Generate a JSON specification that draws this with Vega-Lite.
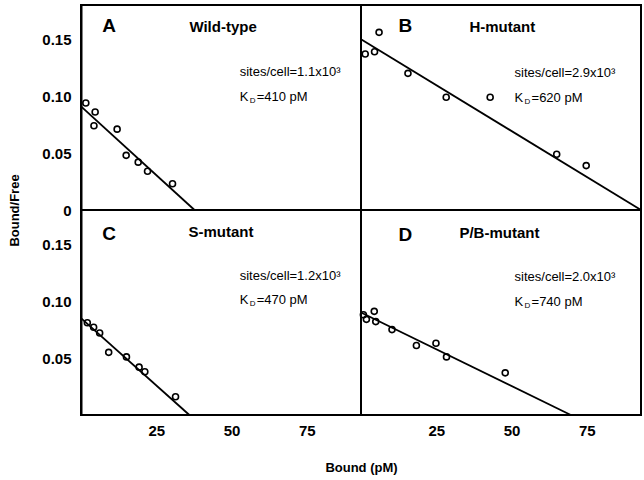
{
  "$schema": "https://vega.github.io/schema/vega-lite/v6.json",
  "background": "white",
  "padding": {"left": 7, "top": 4, "right": 0, "bottom": 0},
  "columns": 2,
  "spacing": 0,
  "bounds": "flush",
  "datasets": {
    "ticks": [{"ax": "x", "t": 25}, {"ax": "x", "t": 50}, {"ax": "x", "t": 75}, {"ax": "y", "t": 0.05}, {"ax": "y", "t": 0.1}, {"ax": "y", "t": 0.15}],
    "pts": [
      {"p": "A", "x": 1.6, "y": 0.094}, {"p": "A", "x": 4.7, "y": 0.086}, {"p": "A", "x": 4.3, "y": 0.074}, {"p": "A", "x": 12.0, "y": 0.071},
      {"p": "A", "x": 15.0, "y": 0.048}, {"p": "A", "x": 19.0, "y": 0.042}, {"p": "A", "x": 22.1, "y": 0.034}, {"p": "A", "x": 30.4, "y": 0.023},
      {"p": "B", "x": 1.4, "y": 0.137}, {"p": "B", "x": 4.5, "y": 0.139}, {"p": "B", "x": 6.0, "y": 0.156}, {"p": "B", "x": 15.6, "y": 0.120},
      {"p": "B", "x": 28.3, "y": 0.099}, {"p": "B", "x": 42.9, "y": 0.099}, {"p": "B", "x": 65.0, "y": 0.049}, {"p": "B", "x": 74.8, "y": 0.039},
      {"p": "C", "x": 2.1, "y": 0.081}, {"p": "C", "x": 4.2, "y": 0.077}, {"p": "C", "x": 6.2, "y": 0.072}, {"p": "C", "x": 9.2, "y": 0.055},
      {"p": "C", "x": 15.1, "y": 0.051}, {"p": "C", "x": 19.3, "y": 0.042}, {"p": "C", "x": 21.2, "y": 0.038}, {"p": "C", "x": 31.4, "y": 0.016},
      {"p": "D", "x": 0.8, "y": 0.088}, {"p": "D", "x": 1.8, "y": 0.084}, {"p": "D", "x": 4.4, "y": 0.091}, {"p": "D", "x": 4.9, "y": 0.082},
      {"p": "D", "x": 10.3, "y": 0.075}, {"p": "D", "x": 18.4, "y": 0.061}, {"p": "D", "x": 24.9, "y": 0.063}, {"p": "D", "x": 28.4, "y": 0.051},
      {"p": "D", "x": 47.9, "y": 0.037}
    ],
    "fits": [
      {"p": "A", "x": 0, "y": 0.091}, {"p": "A", "x": 37.7, "y": 0},
      {"p": "B", "x": 0, "y": 0.150}, {"p": "B", "x": 93, "y": 0},
      {"p": "C", "x": 0, "y": 0.085}, {"p": "C", "x": 36, "y": 0},
      {"p": "D", "x": 0, "y": 0.090}, {"p": "D", "x": 69.7, "y": 0}
    ],
    "labels": [
      {"p": "A", "kind": "letter", "text": "A", "x": 9.3, "y": 0.162},
      {"p": "A", "kind": "name", "text": "Wild-type", "x": 36, "y": 0.161},
      {"p": "A", "kind": "sites", "text": "sites/cell=1.1x10³", "x": 52.7, "y": 0.121},
      {"p": "A", "kind": "kd", "text": "=410 pM", "x": 52.7, "y": 0.099},
      {"p": "B", "kind": "letter", "text": "B", "x": 14.7, "y": 0.162},
      {"p": "B", "kind": "name", "text": "H-mutant", "x": 36, "y": 0.161},
      {"p": "B", "kind": "sites", "text": "sites/cell=2.9x10³", "x": 51, "y": 0.120},
      {"p": "B", "kind": "kd", "text": "=620 pM", "x": 51, "y": 0.098},
      {"p": "C", "kind": "letter", "text": "C", "x": 9.3, "y": 0.159},
      {"p": "C", "kind": "name", "text": "S-mutant", "x": 35.7, "y": 0.161},
      {"p": "C", "kind": "sites", "text": "sites/cell=1.2x10³", "x": 52.7, "y": 0.122},
      {"p": "C", "kind": "kd", "text": "=470 pM", "x": 52.7, "y": 0.101},
      {"p": "D", "kind": "letter", "text": "D", "x": 14.7, "y": 0.158},
      {"p": "D", "kind": "name", "text": "P/B-mutant", "x": 32.7, "y": 0.160},
      {"p": "D", "kind": "sites", "text": "sites/cell=2.0x10³", "x": 51, "y": 0.121},
      {"p": "D", "kind": "kd", "text": "=740 pM", "x": 51, "y": 0.099}
    ]
  },
  "concat": [
    {
      "width": 280, "height": 205,
      "encoding": {
        "x": {"field": "x", "type": "quantitative", "scale": {"domain": [0, 93], "nice": false}, "axis": {"values": [25, 50, 75], "labels": false, "ticks": false, "title": null, "domain": false}},
        "y": {"field": "y", "type": "quantitative", "scale": {"domain": [0, 0.18], "nice": false}, "axis": {"values": [0, 0.05, 0.1, 0.15], "labelExpr": "datum.value == 0 ? '0' : format(datum.value, '.2f')", "title": "Bound/Free", "titleX": -67, "titleY": 205, "titleAngle": -90, "titleAlign": "center", "titleBaseline": "middle"}}
      },
      "layer": [
        {"data": {"name": "ticks"}, "transform": [{"filter": "datum.ax == 'x'"}], "mark": {"type": "rule", "color": "black", "strokeWidth": 2, "opacity": 1}, "encoding": {"x": {"field": "t", "type": "quantitative"}, "y": {"datum": 0}, "y2": {"datum": 0.007}}},
        {"data": {"name": "ticks"}, "transform": [{"filter": "datum.ax == 'y'"}], "mark": {"type": "rule", "color": "black", "strokeWidth": 2, "opacity": 1, "clip": false}, "encoding": {"y": {"field": "t", "type": "quantitative"}, "x": {"datum": 0}, "x2": {"datum": -1.8}}},
        {"data": {"name": "fits"}, "transform": [{"filter": "datum.p == 'A'"}], "mark": {"type": "line", "color": "black", "strokeWidth": 1.8}},
        {"data": {"name": "pts"}, "transform": [{"filter": "datum.p == 'A'"}], "mark": {"type": "point", "shape": "circle", "size": 36, "color": "black", "strokeWidth": 1.6, "filled": false, "opacity": 1}},
        {"data": {"name": "labels"}, "transform": [{"filter": "datum.p == 'A' && datum.kind == 'letter'"}], "mark": {"type": "text", "fontSize": 19, "fontWeight": "bold", "align": "center", "baseline": "middle"}, "encoding": {"text": {"field": "text"}}},
        {"data": {"name": "labels"}, "transform": [{"filter": "datum.p == 'A' && datum.kind == 'name'"}], "mark": {"type": "text", "fontSize": 15, "fontWeight": "bold", "align": "left", "baseline": "middle"}, "encoding": {"text": {"field": "text"}}},
        {"data": {"name": "labels"}, "transform": [{"filter": "datum.p == 'A' && datum.kind == 'sites'"}], "mark": {"type": "text", "fontSize": 13, "align": "left", "baseline": "middle"}, "encoding": {"text": {"field": "text"}}},
        {"data": {"name": "labels"}, "transform": [{"filter": "datum.p == 'A' && datum.kind == 'kd'"}], "mark": {"type": "text", "fontSize": 13, "align": "left", "baseline": "middle"}, "encoding": {"text": {"value": "K"}}},
        {"data": {"name": "labels"}, "transform": [{"filter": "datum.p == 'A' && datum.kind == 'kd'"}], "mark": {"type": "text", "fontSize": 8, "align": "left", "baseline": "middle", "dx": 10, "dy": 4}, "encoding": {"text": {"value": "D"}}},
        {"data": {"name": "labels"}, "transform": [{"filter": "datum.p == 'A' && datum.kind == 'kd'"}], "mark": {"type": "text", "fontSize": 13, "align": "left", "baseline": "middle", "dx": 17}, "encoding": {"text": {"field": "text"}}}
      ]
    },
    {
      "width": 280, "height": 205,
      "encoding": {
        "x": {"field": "x", "type": "quantitative", "scale": {"domain": [0, 93], "nice": false}, "axis": {"values": [25, 50, 75], "labels": false, "ticks": false, "title": null, "domain": false}},
        "y": {"field": "y", "type": "quantitative", "scale": {"domain": [0, 0.18], "nice": false}, "axis": {"values": [0.05, 0.1, 0.15], "labels": false, "ticks": false, "title": null, "domain": false}}
      },
      "layer": [
        {"data": {"name": "ticks"}, "transform": [{"filter": "datum.ax == 'x'"}], "mark": {"type": "rule", "color": "black", "strokeWidth": 2, "opacity": 1}, "encoding": {"x": {"field": "t", "type": "quantitative"}, "y": {"datum": 0}, "y2": {"datum": 0.007}}},
        {"data": {"name": "ticks"}, "transform": [{"filter": "datum.ax == 'y'"}], "mark": {"type": "rule", "color": "black", "strokeWidth": 2, "opacity": 1}, "encoding": {"y": {"field": "t", "type": "quantitative"}, "x": {"datum": 0}, "x2": {"datum": 3}}},
        {"data": {"name": "fits"}, "transform": [{"filter": "datum.p == 'B'"}], "mark": {"type": "line", "color": "black", "strokeWidth": 1.8}},
        {"data": {"name": "pts"}, "transform": [{"filter": "datum.p == 'B'"}], "mark": {"type": "point", "shape": "circle", "size": 36, "color": "black", "strokeWidth": 1.6, "filled": false, "opacity": 1}},
        {"data": {"name": "labels"}, "transform": [{"filter": "datum.p == 'B' && datum.kind == 'letter'"}], "mark": {"type": "text", "fontSize": 19, "fontWeight": "bold", "align": "center", "baseline": "middle"}, "encoding": {"text": {"field": "text"}}},
        {"data": {"name": "labels"}, "transform": [{"filter": "datum.p == 'B' && datum.kind == 'name'"}], "mark": {"type": "text", "fontSize": 15, "fontWeight": "bold", "align": "left", "baseline": "middle"}, "encoding": {"text": {"field": "text"}}},
        {"data": {"name": "labels"}, "transform": [{"filter": "datum.p == 'B' && datum.kind == 'sites'"}], "mark": {"type": "text", "fontSize": 13, "align": "left", "baseline": "middle"}, "encoding": {"text": {"field": "text"}}},
        {"data": {"name": "labels"}, "transform": [{"filter": "datum.p == 'B' && datum.kind == 'kd'"}], "mark": {"type": "text", "fontSize": 13, "align": "left", "baseline": "middle"}, "encoding": {"text": {"value": "K"}}},
        {"data": {"name": "labels"}, "transform": [{"filter": "datum.p == 'B' && datum.kind == 'kd'"}], "mark": {"type": "text", "fontSize": 8, "align": "left", "baseline": "middle", "dx": 10, "dy": 4}, "encoding": {"text": {"value": "D"}}},
        {"data": {"name": "labels"}, "transform": [{"filter": "datum.p == 'B' && datum.kind == 'kd'"}], "mark": {"type": "text", "fontSize": 13, "align": "left", "baseline": "middle", "dx": 17}, "encoding": {"text": {"field": "text"}}}
      ]
    },
    {
      "width": 280, "height": 205,
      "encoding": {
        "x": {"field": "x", "type": "quantitative", "scale": {"domain": [0, 93], "nice": false}, "axis": {"values": [25, 50, 75], "title": "Bound (pM)", "titleX": 280, "titleY": 52, "titleAlign": "center", "titleBaseline": "middle", "domain": false, "ticks": false, "labelPadding": 8}},
        "y": {"field": "y", "type": "quantitative", "scale": {"domain": [0, 0.18], "nice": false}, "axis": {"values": [0.05, 0.1, 0.15], "format": ".2f", "title": null}}
      },
      "layer": [
        {"data": {"name": "ticks"}, "transform": [{"filter": "datum.ax == 'x'"}], "mark": {"type": "rule", "color": "black", "strokeWidth": 2, "opacity": 1}, "encoding": {"x": {"field": "t", "type": "quantitative"}, "y": {"datum": 0}, "y2": {"datum": 0.007}}},
        {"data": {"name": "ticks"}, "transform": [{"filter": "datum.ax == 'y'"}], "mark": {"type": "rule", "color": "black", "strokeWidth": 2, "opacity": 1, "clip": false}, "encoding": {"y": {"field": "t", "type": "quantitative"}, "x": {"datum": 0}, "x2": {"datum": -1.8}}},
        {"data": {"name": "fits"}, "transform": [{"filter": "datum.p == 'C'"}], "mark": {"type": "line", "color": "black", "strokeWidth": 1.8}},
        {"data": {"name": "pts"}, "transform": [{"filter": "datum.p == 'C'"}], "mark": {"type": "point", "shape": "circle", "size": 36, "color": "black", "strokeWidth": 1.6, "filled": false, "opacity": 1}},
        {"data": {"name": "labels"}, "transform": [{"filter": "datum.p == 'C' && datum.kind == 'letter'"}], "mark": {"type": "text", "fontSize": 19, "fontWeight": "bold", "align": "center", "baseline": "middle"}, "encoding": {"text": {"field": "text"}}},
        {"data": {"name": "labels"}, "transform": [{"filter": "datum.p == 'C' && datum.kind == 'name'"}], "mark": {"type": "text", "fontSize": 15, "fontWeight": "bold", "align": "left", "baseline": "middle"}, "encoding": {"text": {"field": "text"}}},
        {"data": {"name": "labels"}, "transform": [{"filter": "datum.p == 'C' && datum.kind == 'sites'"}], "mark": {"type": "text", "fontSize": 13, "align": "left", "baseline": "middle"}, "encoding": {"text": {"field": "text"}}},
        {"data": {"name": "labels"}, "transform": [{"filter": "datum.p == 'C' && datum.kind == 'kd'"}], "mark": {"type": "text", "fontSize": 13, "align": "left", "baseline": "middle"}, "encoding": {"text": {"value": "K"}}},
        {"data": {"name": "labels"}, "transform": [{"filter": "datum.p == 'C' && datum.kind == 'kd'"}], "mark": {"type": "text", "fontSize": 8, "align": "left", "baseline": "middle", "dx": 10, "dy": 4}, "encoding": {"text": {"value": "D"}}},
        {"data": {"name": "labels"}, "transform": [{"filter": "datum.p == 'C' && datum.kind == 'kd'"}], "mark": {"type": "text", "fontSize": 13, "align": "left", "baseline": "middle", "dx": 17}, "encoding": {"text": {"field": "text"}}}
      ]
    },
    {
      "width": 280, "height": 205,
      "encoding": {
        "x": {"field": "x", "type": "quantitative", "scale": {"domain": [0, 93], "nice": false}, "axis": {"values": [25, 50, 75], "title": null, "domain": false, "ticks": false, "labelPadding": 8}},
        "y": {"field": "y", "type": "quantitative", "scale": {"domain": [0, 0.18], "nice": false}, "axis": {"values": [0.05, 0.1, 0.15], "labels": false, "ticks": false, "title": null, "domain": false}}
      },
      "layer": [
        {"data": {"name": "ticks"}, "transform": [{"filter": "datum.ax == 'x'"}], "mark": {"type": "rule", "color": "black", "strokeWidth": 2, "opacity": 1}, "encoding": {"x": {"field": "t", "type": "quantitative"}, "y": {"datum": 0}, "y2": {"datum": 0.007}}},
        {"data": {"name": "ticks"}, "transform": [{"filter": "datum.ax == 'y'"}], "mark": {"type": "rule", "color": "black", "strokeWidth": 2, "opacity": 1}, "encoding": {"y": {"field": "t", "type": "quantitative"}, "x": {"datum": 0}, "x2": {"datum": 3}}},
        {"data": {"name": "fits"}, "transform": [{"filter": "datum.p == 'D'"}], "mark": {"type": "line", "color": "black", "strokeWidth": 1.8}},
        {"data": {"name": "pts"}, "transform": [{"filter": "datum.p == 'D'"}], "mark": {"type": "point", "shape": "circle", "size": 36, "color": "black", "strokeWidth": 1.6, "filled": false, "opacity": 1}},
        {"data": {"name": "labels"}, "transform": [{"filter": "datum.p == 'D' && datum.kind == 'letter'"}], "mark": {"type": "text", "fontSize": 19, "fontWeight": "bold", "align": "center", "baseline": "middle"}, "encoding": {"text": {"field": "text"}}},
        {"data": {"name": "labels"}, "transform": [{"filter": "datum.p == 'D' && datum.kind == 'name'"}], "mark": {"type": "text", "fontSize": 15, "fontWeight": "bold", "align": "left", "baseline": "middle"}, "encoding": {"text": {"field": "text"}}},
        {"data": {"name": "labels"}, "transform": [{"filter": "datum.p == 'D' && datum.kind == 'sites'"}], "mark": {"type": "text", "fontSize": 13, "align": "left", "baseline": "middle"}, "encoding": {"text": {"field": "text"}}},
        {"data": {"name": "labels"}, "transform": [{"filter": "datum.p == 'D' && datum.kind == 'kd'"}], "mark": {"type": "text", "fontSize": 13, "align": "left", "baseline": "middle"}, "encoding": {"text": {"value": "K"}}},
        {"data": {"name": "labels"}, "transform": [{"filter": "datum.p == 'D' && datum.kind == 'kd'"}], "mark": {"type": "text", "fontSize": 8, "align": "left", "baseline": "middle", "dx": 10, "dy": 4}, "encoding": {"text": {"value": "D"}}},
        {"data": {"name": "labels"}, "transform": [{"filter": "datum.p == 'D' && datum.kind == 'kd'"}], "mark": {"type": "text", "fontSize": 13, "align": "left", "baseline": "middle", "dx": 17}, "encoding": {"text": {"field": "text"}}}
      ]
    }
  ],
  "config": {
    "view": {"stroke": "black", "strokeWidth": 2},
    "axis": {"grid": false, "domainColor": "black", "domainWidth": 2, "ticks": false, "labelFont": "Liberation Sans", "labelFontSize": 15, "labelFontWeight": "bold", "labelColor": "black", "labelPadding": 10, "titleFont": "Liberation Sans", "titleFontSize": 13, "titleFontWeight": "bold", "titleColor": "black"},
    "text": {"font": "Liberation Sans", "color": "black"}
  }
}
